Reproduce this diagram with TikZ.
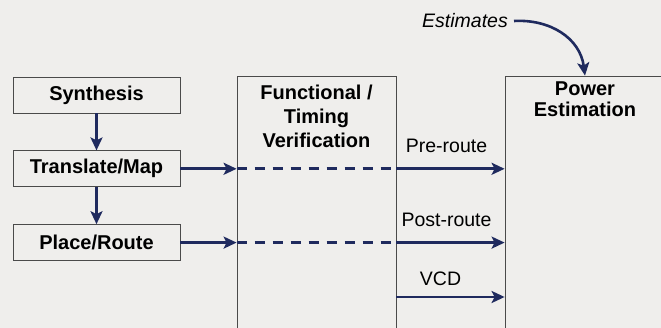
\documentclass[tikz,border=0pt]{standalone}
\usepackage{fontspec}
\setmainfont{Liberation Sans}
\usetikzlibrary{arrows.meta,positioning}
\definecolor{flowblue}{HTML}{1F2A5E}
\definecolor{paper}{HTML}{EFEEEC}
\definecolor{boxline}{HTML}{4A4A4A}

\begin{document}
\begin{tikzpicture}[x=1pt,y=-1pt,
  box/.style={draw=boxline,line width=0.8pt,minimum width=167pt,minimum height=36pt,inner sep=0pt,
    font=\fontsize{20}{22}\selectfont\bfseries},
  tallbox/.style={draw=boxline,line width=0.8pt,minimum height=270pt,inner sep=0pt},
  title/.style={anchor=north,align=center,inner sep=0pt,font=\fontsize{20}{24}\selectfont\bfseries},
  lbl/.style={inner sep=0pt,font=\fontsize{19.5}{22}\selectfont},
  flow/.style={draw=flowblue,line width=2.6pt,-{Stealth[length=13pt,width=12pt,inset=3pt]}},
  dashflow/.style={draw=flowblue,line width=2.6pt,dash pattern=on 10pt off 8pt}]
\fill [paper] (0,0) rectangle (661,328);
\useasboundingbox (0,0) rectangle (661,328);
% left column
\node [box] (synth) at (96.5,95) {Synthesis};
\node [box,below=37pt of synth] (trans) {Translate/Map};
\node [box,below=37pt of trans] (place) {Place/Route};
% big boxes, open at the page edges
\node [tallbox,minimum width=159pt] (func) at (316.5,211) {};
\node [tallbox,minimum width=185pt] (power) at (597.5,211) {};
\node [title] (functitle) at (316.5,85) {Functional /\\Timing\\Verification};
\node [title,font=\fontsize{20}{20.5}\selectfont\bfseries] (powertitle) at (585,82) {Power\\Estimation};
\node [lbl,font=\fontsize{19.5}{22}\selectfont\itshape] (est) at (465,21) {Estimates};
% flow
\draw [flow] (synth) -- (trans);
\draw [flow] (trans) -- (place);
\draw [flow] (trans.east) -- (func.west |- trans.east);
\draw [flow] (place.east) -- (func.west |- place.east);
\draw [dashflow] (func.west |- trans.east) -- (func.east |- trans.east);
\draw [dashflow] (func.west |- place.east) -- (func.east |- place.east);
\draw [flow] (func.east |- trans.east) -- (power.west |- trans.east)
  node [lbl,midway,above=15pt,xshift=-4pt] (pre) {Pre-route};
\draw [flow] (func.east |- place.east) -- (power.west |- place.east)
  node [lbl,midway,above=15pt,xshift=-4pt] (post) {Post-route};
\coordinate (vcd) at (func.east |- 0,297);
\draw [flow] (vcd) -- (power.west |- vcd)
  node [lbl,midway,above=10pt,xshift=-10pt] (vcdl) {VCD};
\draw [flow] ([xshift=6pt]est.east) .. controls (550,19) and (580,38) .. (powertitle.north |- power.north);
\end{tikzpicture}
\end{document}
